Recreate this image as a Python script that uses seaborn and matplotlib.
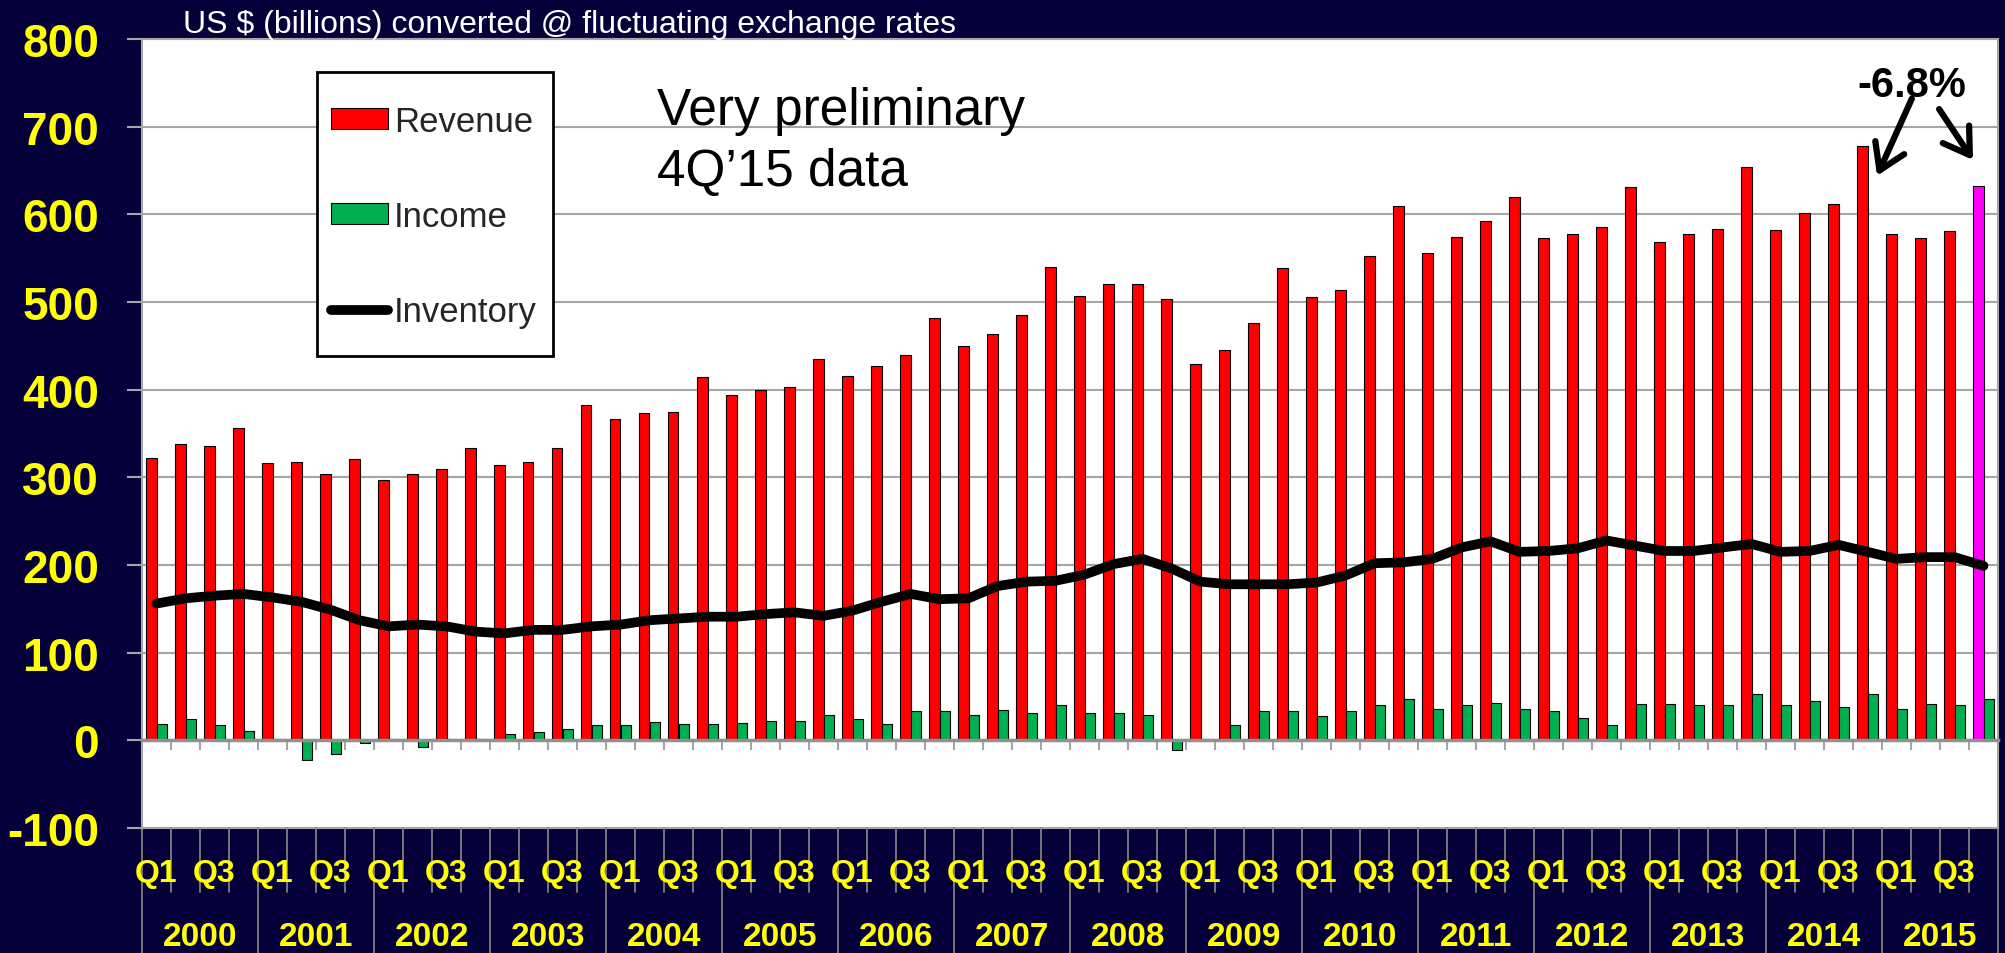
import numpy as np
import pandas as pd
import matplotlib
matplotlib.use("Agg")
import matplotlib.pyplot as plt
import matplotlib.transforms as mtransforms
from matplotlib.patches import Patch, Rectangle
from matplotlib.lines import Line2D
import seaborn as sns

YEARS = list(range(2000, 2016))
QUARTERS = ["Q1", "Q2", "Q3", "Q4"]

# US $ billions (quarterly, 2000 Q1 .. 2015 Q4)
REVENUE = [
    322, 338, 336, 356,  316, 318, 304, 321,  297, 304, 309, 334,  314, 318, 333, 382,
    366, 373, 375, 414,  394, 400, 403, 435,  416, 427, 439, 482,  450, 464, 485, 540,
    507, 520, 520, 503,  429, 445, 476, 539,  506, 514, 553, 610,  556, 574, 592, 620,
    573, 578, 585, 631,  569, 578, 583, 654,  582, 601, 612, 678,  578, 573, 581, 632,
]
INCOME = [
    19, 24, 18, 11,  2, -22, -16, -3,  2, -8, 2, 1,  7, 9, 13, 17,
    18, 21, 19, 19,  20, 22, 22, 29,  24, 19, 33, 33,  29, 35, 31, 40,
    31, 31, 29, -11,  2, 17, 33, 34,  28, 33, 40, 47,  36, 40, 43, 36,
    33, 26, 18, 41,  41, 40, 40, 53,  40, 45, 38, 53,  36, 41, 40, 47,
]
INVENTORY = [
    156, 162, 165, 167,  163, 158, 149, 137,  130, 132, 130, 124,  122, 126, 126, 130,
    132, 137, 139, 141,  141, 144, 146, 142,  148, 158, 167, 161,  162, 176, 181, 182,
    189, 201, 207, 196,  181, 178, 178, 178,  180, 188, 202, 203,  207, 220, 227, 215,
    216, 219, 228, 222,  216, 216, 220, 224,  215, 216, 223, 215,  207, 209, 209, 199,
]

TITLE = "US $ (billions) converted @ fluctuating exchange rates"
NOTE = ["Very preliminary", "4Q\u201915 data"]
CHANGE = "-6.8%"

NAVY = "#06003a"
RED = "#ff0000"
GREEN = "#00b050"
MAGENTA = "#ff00ff"
YELLOW = "#ffff00"
GRID = "#a6a6a6"

periods = [f"{y} {q}" for y in YEARS for q in QUARTERS]
n = len(periods)
df = pd.DataFrame({
    "period": periods * 2,
    "value": REVENUE + INCOME,
    "series": ["Revenue"] * n + ["Income"] * n,
})

sns.set_theme(style="white")
plt.rcParams["font.family"] = ["Liberation Sans", "DejaVu Sans"]

W, H = 2005, 954
fig = plt.figure(figsize=(W / 100, H / 100), dpi=100, facecolor=NAVY)
ax = fig.add_axes([142 / W, 125 / H, 1856 / W, 789 / H])
ax.set_facecolor("white")

sns.barplot(data=df, x="period", y="value", hue="series", order=periods,
            hue_order=["Revenue", "Income"],
            palette={"Revenue": RED, "Income": GREEN},
            width=0.72, saturation=1, edgecolor="black", linewidth=0.8,
            errorbar=None, legend=False, ax=ax)
# latest (preliminary) revenue bar in magenta
ax.containers[0][-1].set_facecolor(MAGENTA)

sns.lineplot(x=np.arange(n), y=INVENTORY, color="black", linewidth=7,
             solid_capstyle="round", ax=ax)

# axes styling
ax.set_xlim(-0.5, n - 0.5)
ax.set_ylim(-100, 800)
ax.set_yticks(range(-100, 801, 100))
ax.set_yticklabels([str(v) for v in range(-100, 801, 100)], fontweight="bold")
ax.grid(axis="y", color=GRID, linewidth=1.5)
ax.set_axisbelow(True)
ax.tick_params(axis="y", colors=GRID, length=11, width=1.5, pad=20,
               labelcolor=YELLOW, labelsize=33, left=True)
ax.set_xticks(np.arange(n + 1) - 0.5)
ax.set_xticklabels([])
ax.tick_params(axis="x", colors=GRID, length=7, width=1.5, direction="out", bottom=True)
ax.spines["bottom"].set_position(("data", 0))
ax.spines["bottom"].set_color("#909090")
ax.spines["bottom"].set_linewidth(2.5)
for side in ["left", "top", "right"]:
    ax.spines[side].set_color(GRID)
    ax.spines[side].set_linewidth(1.5)
ax.axhline(-100, color=GRID, linewidth=1.5, clip_on=False)
ax.set_xlabel("")
ax.set_ylabel("")

# multi-level category axis below the plot
trans = mtransforms.blended_transform_factory(ax.transData, ax.transAxes)
for i, b in enumerate(np.arange(n + 1) - 0.5):
    bottom = -0.16 if i % 4 == 0 else -0.081
    ax.plot([b, b], [0, bottom], transform=trans, color="#808080", lw=1.3,
            clip_on=False)
for i, p in enumerate(periods):
    q = QUARTERS[i % 4]
    if q in ("Q1", "Q3"):
        ax.text(i, -0.067, q, transform=trans, ha="center", va="baseline",
                color=YELLOW, fontsize=23, fontweight="bold")
for k, y in enumerate(YEARS):
    ax.text(4 * k + 1.5, -0.148, str(y), transform=trans, ha="center",
            va="baseline", color=YELLOW, fontsize=24, fontweight="bold")

fig.text(183 / W, 1 - 33 / H, TITLE, color="white", fontsize=23,
         ha="left", va="baseline")

ax.text(17.26, 703, NOTE[0], fontsize=37, color="black", ha="left", va="baseline")
ax.text(17.26, 633, NOTE[1], fontsize=37, color="black", ha="left", va="baseline")

# -6.8% callout
arrow_kw = dict(arrowstyle="->,head_length=0.6,head_width=0.38", color="black",
                lw=4.5, shrinkA=0, shrinkB=0, mutation_scale=30)
ax.annotate("", xy=(59.33, 644), xytext=(60.53, 732), arrowprops=arrow_kw)
ax.annotate("", xy=(62.64, 662), xytext=(61.47, 720), arrowprops=arrow_kw)
ax.text(60.53, 735, CHANGE, ha="center", va="baseline", fontsize=30,
        fontweight="bold", color="black")

# legend: frame drawn separately, since the entries sit far apart vertically
box = Rectangle((317 / W, 1 - 357 / H), (553 - 317) / W, (357 - 73) / H,
                transform=fig.transFigure, facecolor="white", edgecolor="black",
                linewidth=2, zorder=4)
ax.add_artist(box)
box.set_clip_on(False)
handles = [
    Patch(facecolor=RED, edgecolor="black", linewidth=0.8),
    Patch(facecolor=GREEN, edgecolor="black", linewidth=0.8),
    Line2D([], [], color="black", lw=7, solid_capstyle="round"),
]
leg = ax.legend(handles, ["Revenue", "Income", "Inventory"], loc="upper left",
                bbox_to_anchor=(331 / W, 1 - 106 / H), bbox_transform=fig.transFigure,
                fontsize=25, frameon=False, handlelength=1.64, handleheight=0.55,
                handletextpad=0.17, labelspacing=1.79, borderpad=0,
                borderaxespad=0)
leg.set_zorder(5)

fig.savefig("out.png", dpi=100, facecolor=NAVY)
